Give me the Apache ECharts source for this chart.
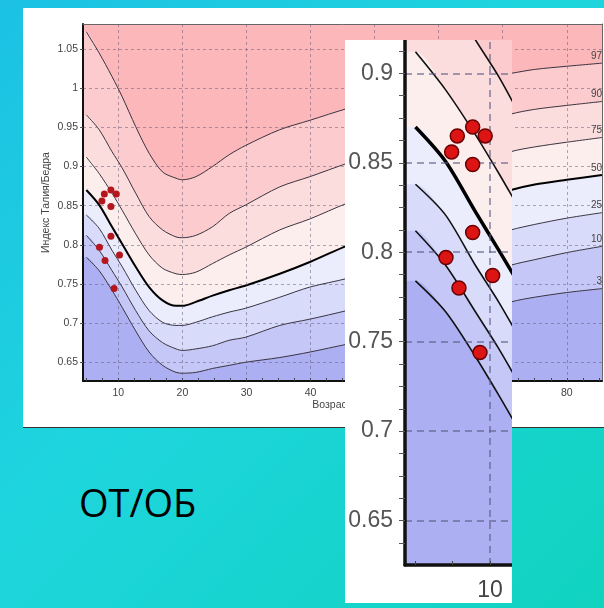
<!DOCTYPE html>
<html><head><meta charset="utf-8">
<script src="https://cdn.jsdelivr.net/npm/echarts@6/dist/echarts.min.js"></script>
<style>
html,body{margin:0;padding:0;width:604px;height:608px;overflow:hidden;}
body{background:linear-gradient(135deg,#1cc1e4 0%,#1ed5dd 45%,#10d3bf 100%);position:relative;}
#main{position:absolute;left:23px;top:8px;width:581px;height:419px;background:#fff;border-bottom:1.5px solid #333;}
#inset{position:absolute;left:345px;top:40px;width:167px;height:563px;background:#fff;}
#title{position:absolute;left:79px;top:480px;font-family:"Open Sans",sans-serif;font-size:38px;line-height:44px;color:#000;}
</style></head><body>
<div id="main"></div><div id="inset"></div><div id="title">ОТ/ОБ</div>
<script>
// ---- data ----
const ages = [5.0, 7, 9, 10.6, 12.7, 14.8, 16.9, 19, 20, 22.1, 24.7, 27.3, 29.9, 35.2, 39.9, 45.7, 50, 55, 60, 65, 71.3, 75, 80, 85.5];
const p3  = [0.784,0.767,0.742,0.720,0.690,0.663,0.646,0.637,0.636,0.637,0.642,0.646,0.650,0.656,0.663,0.673,0.680,0.690,0.700,0.710,0.727,0.733,0.739,0.744];
const p10 = [0.812,0.793,0.767,0.746,0.716,0.690,0.675,0.667,0.665,0.667,0.671,0.678,0.682,0.697,0.705,0.716,0.725,0.736,0.747,0.757,0.774,0.781,0.790,0.798];
const p25 = [0.838,0.821,0.793,0.772,0.742,0.716,0.701,0.697,0.697,0.701,0.708,0.714,0.719,0.733,0.746,0.757,0.768,0.780,0.792,0.803,0.819,0.826,0.834,0.841];
const p50 = [0.870,0.851,0.823,0.801,0.772,0.746,0.729,0.722,0.722,0.727,0.735,0.742,0.748,0.763,0.778,0.799,0.812,0.827,0.841,0.854,0.870,0.877,0.883,0.889];
const p75 = [0.912,0.891,0.866,0.844,0.814,0.787,0.770,0.763,0.762,0.765,0.776,0.787,0.797,0.819,0.833,0.853,0.864,0.877,0.890,0.902,0.919,0.925,0.931,0.937];
const p90 = [0.966,0.947,0.919,0.898,0.866,0.836,0.819,0.810,0.809,0.812,0.823,0.840,0.851,0.874,0.887,0.904,0.915,0.928,0.940,0.951,0.967,0.973,0.978,0.983];
const p97 = [1.072,1.045,1.015,0.989,0.951,0.917,0.893,0.885,0.883,0.887,0.900,0.915,0.927,0.947,0.959,0.974,0.983,0.994,1.003,1.011,1.019,1.024,1.028,1.032];
const percentileNames = ['3','10','25','50','75','90','97'];
const dotAges   = [8.84, 7.81, 9.68, 7.43, 8.84, 8.84, 7.05, 10.18, 7.92, 9.33];
const dotValues = [0.870, 0.865, 0.865, 0.856, 0.849, 0.811, 0.797, 0.787, 0.780, 0.744];
const yTickLabels = [0.65, 0.7, 0.75, 0.8, 0.85, 0.9, 0.95, 1, 1.05];
const xTickLabels = [10, 20, 30, 40, 50, 60, 70, 80];
const xMinorTicks = [5, 7.5, 10, 12.5, 15, 17.5, 20, 22.5, 25, 27.5, 30, 32.5, 35, 37.5, 40, 42.5, 45, 47.5, 50, 52.5, 55, 57.5, 60, 62.5, 65, 67.5, 70, 72.5, 75, 77.5, 80, 82.5, 85];
const insetYTickLabels = [0.65, 0.7, 0.75, 0.8, 0.85, 0.9];
const insetYMinorTicks = [0.6375, 0.65, 0.6625, 0.675, 0.6875, 0.7, 0.7125, 0.725, 0.7375, 0.75, 0.7625, 0.775, 0.7875, 0.8, 0.8125, 0.825, 0.8375, 0.85, 0.8625, 0.875, 0.8875, 0.9, 0.9125];
const insetXTickLabels = [10];
const insetXMinorTicks = [5, 7.5, 10];

const curves = [p3, p10, p25, p50, p75, p90, p97];
const bandBelow = ['#acb0f2', '#c5c8f7', '#d9dbfa', '#ebecfc', '#fdeeee', '#fcdddd', '#fccbcd'];
const bandTop = '#fcb7bb';

function build(cfg) {
  const series = [];
  for (let i = curves.length - 1; i >= 0; i--) {
    const d = [[cfg.xMin, curves[i][0]]].concat(ages.map((a, k) => [a, curves[i][k]]));
    series.push({
      type: 'line', data: d, smooth: 0.3, symbol: 'none', silent: true, z: 2,
      lineStyle: { width: 0 }, areaStyle: { color: bandBelow[i], opacity: 1, origin: 'start' }
    });
  }
  series.push({
    type: 'line', data: [], z: 3, silent: true,
    markLine: {
      silent: true, symbol: ['none', 'none'], label: { show: false }, animation: false,
      lineStyle: { type: cfg.dash, color: cfg.gridColor, width: cfg.gridWidth },
      data: cfg.yTicks.map(v => ({ yAxis: v })).concat(cfg.xTicks.map(v => ({ xAxis: v })))
    }
  });
  curves.forEach((c, i) => {
    const bold = percentileNames[i] === '50';
    const d = ages.map((a, k) => {
      if (cfg.endLabels && k === ages.length - 1) {
        return { value: [a, c[k]], label: { show: true, formatter: percentileNames[i], position: 'top', align: 'right', distance: 2, color: '#444', fontSize: 10, fontFamily: 'Liberation Sans' } };
      }
      return [a, c[k]];
    });
    series.push({
      type: 'line', data: d, smooth: 0.3, symbol: 'circle', symbolSize: 0, showSymbol: true, silent: true, z: 4,
      lineStyle: { color: bold ? '#000' : cfg.lineColor, width: bold ? cfg.boldW : cfg.lineW },
      label: { show: false }
    });
  });
  series.push({
    type: 'scatter', z: 6, silent: true, symbolSize: cfg.dotSize,
    data: dotAges.map((a, k) => [a, dotValues[k]]),
    itemStyle: { color: cfg.dotColor, borderColor: cfg.dotBorder, borderWidth: cfg.dotBorderW, opacity: 1 }
  });

  const xAxis = [{
    type: 'value', min: cfg.xMin, max: cfg.xMax, position: 'bottom', z: 10,
    name: cfg.xName, nameLocation: 'middle', nameGap: 19, nameMoveOverlap: false,
    nameTextStyle: { color: '#444', fontSize: 10.5, fontFamily: 'Liberation Sans' },
    axisLine: { show: true, onZero: false, lineStyle: { color: '#111', width: cfg.axisW } },
    axisTick: { show: true, inside: true, length: cfg.xTickLen, customValues: cfg.xMinor, lineStyle: { color: '#444', width: 1 } },
    axisLabel: { customValues: cfg.xTicks, color: '#444', fontSize: cfg.fontSize, margin: cfg.xLabelMargin, fontFamily: 'Liberation Sans' },
    splitLine: { show: false }
  }];
  const yAxis = [{
    type: 'value', min: cfg.yMin, max: cfg.yMax, position: 'left', z: 10,
    name: cfg.yName, nameLocation: 'middle', nameRotate: 90, nameGap: 31, nameMoveOverlap: false,
    nameTextStyle: { color: '#444', fontSize: 10.5, fontFamily: 'Liberation Sans' },
    axisLine: { show: true, onZero: false, lineStyle: { color: '#111', width: cfg.axisW } },
    axisTick: { show: true, inside: false, length: cfg.yTickLen, customValues: cfg.yMinor, lineStyle: { color: '#555', width: 1 } },
    axisLabel: { customValues: cfg.yTicks, color: cfg.labelColor, fontSize: cfg.fontSize, margin: cfg.yLabelMargin, fontFamily: 'Liberation Sans' },
    splitLine: { show: false }
  }];
  if (cfg.border) {
    xAxis.push({ type: 'value', min: cfg.xMin, max: cfg.xMax, position: 'top', z: 10,
      axisLine: { show: true, onZero: false, lineStyle: { color: '#666', width: 1 } },
      axisTick: { show: false }, axisLabel: { show: false }, splitLine: { show: false } });
    yAxis.push({ type: 'value', min: cfg.yMin, max: cfg.yMax, position: 'right', z: 10,
      axisLine: { show: true, onZero: false, lineStyle: { color: '#666', width: 1 } },
      axisTick: { show: false }, axisLabel: { show: false }, splitLine: { show: false } });
  }
  return {
    animation: false,
    grid: { left: cfg.grid[0], top: cfg.grid[1], right: cfg.grid[2], bottom: cfg.grid[3], show: true, backgroundColor: bandTop, borderWidth: 0 },
    xAxis, yAxis, series
  };
}

const mainChart = echarts.init(document.getElementById('main'), null, { renderer: 'canvas' });
mainChart.setOption(build({
  xMin: 4.48, xMax: 85.5, yMin: 0.626, yMax: 1.082, grid: [60, 16, 2, 46],
  xTicks: xTickLabels, yTicks: yTickLabels, xMinor: xMinorTicks, yMinor: yTickLabels,
  dash: [3, 3], gridColor: 'rgba(95,85,115,0.5)', gridWidth: 1,
  lineColor: '#3a3440', lineW: 1, boldW: 2,
  dotSize: 7, dotColor: '#b3161c', dotBorder: '#8a1010', dotBorderW: 0,
  axisW: 2, xTickLen: 3, yTickLen: 3, fontSize: 10.5, xLabelMargin: 7, yLabelMargin: 5, labelColor: '#444',
  xName: 'Возраст, лет', yName: 'Индекс Талия/Бедра', endLabels: true, border: true
}));

const insetChart = echarts.init(document.getElementById('inset'), null, { renderer: 'canvas' });
insetChart.setOption(build({
  xMin: 4.3, xMax: 11.48, yMin: 0.6252, yMax: 0.9186, grid: [60, 0, 0, 38],
  xTicks: insetXTickLabels, yTicks: insetYTickLabels, xMinor: insetXMinorTicks, yMinor: insetYMinorTicks,
  dash: [7, 5], gridColor: 'rgba(90,90,130,0.75)', gridWidth: 1.5,
  lineColor: '#111', lineW: 1.6, boldW: 3.5,
  dotSize: 14, dotColor: '#dc1414', dotBorder: '#6a0000', dotBorderW: 1.5,
  axisW: 3.5, xTickLen: 4, yTickLen: 6, fontSize: 23, xLabelMargin: 14, yLabelMargin: 12, labelColor: '#555',
  xName: '', yName: '', endLabels: false, border: false
}));
</script>
</body></html>
